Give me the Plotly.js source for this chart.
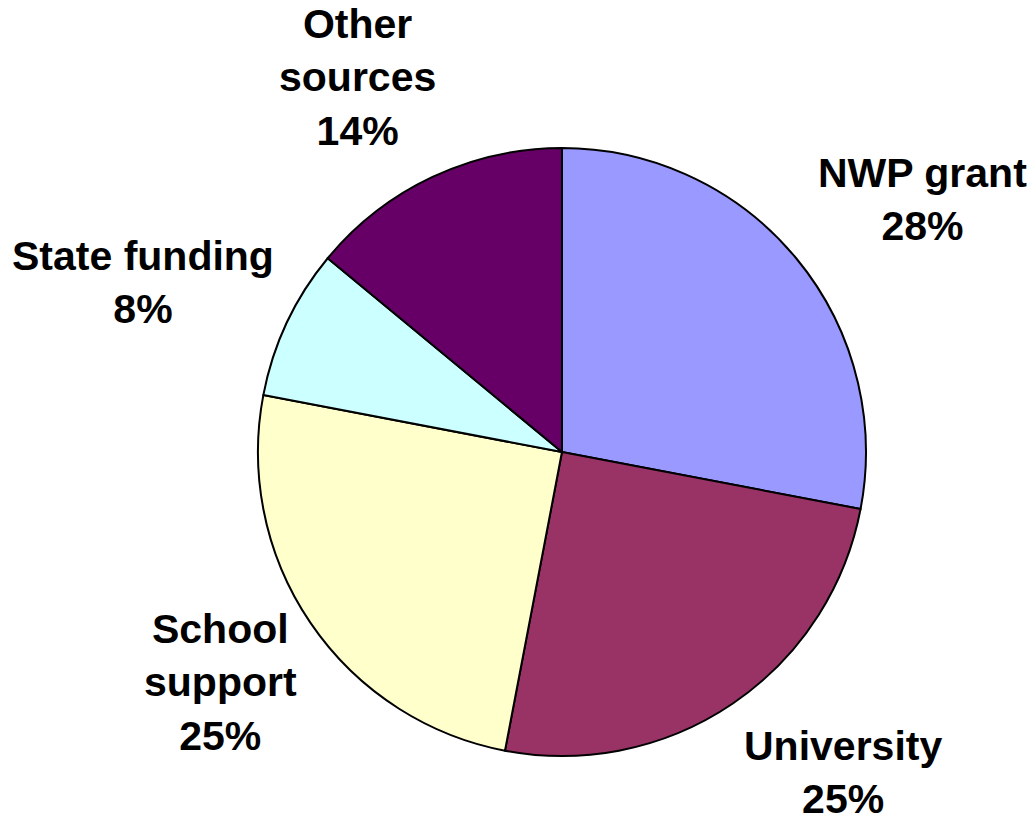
<!DOCTYPE html>
<html>
<head>
<meta charset="utf-8">
<script src="https://cdn.plot.ly/plotly-3.0.1.min.js"></script>
<style>html,body{margin:0;padding:0;background:#fff;}#chart{width:1033px;height:821px;}</style>
</head>
<body>
<div id="chart"></div>
<script>
const categories = ["NWP grant", "University", "School support", "State funding", "Other sources"];
const displayLabels = ["NWP grant", "University", "School<br>support", "State funding", "Other<br>sources"];
const values = [28, 25, 25, 8, 14];
const colors = ["#9999FF", "#993366", "#FFFFCC", "#CCFFFF", "#660066"];

// label placement (paper coordinates), kept separate from the data
const labelPositions = [
  {x: 0.8935, y: 0.7564},
  {x: 0.8161, y: 0.0585},
  {x: 0.2139, y: 0.1681},
  {x: 0.1384, y: 0.6565},
  {x: 0.3456, y: 0.9050}
];

const fontFamily = "Liberation Sans, Arial, sans-serif";

const trace = {
  type: "pie",
  labels: categories,
  values: values,
  sort: false,
  direction: "clockwise",
  rotation: 0,
  marker: {colors: colors, line: {color: "#000000", width: 2}},
  textinfo: "none",
  hoverinfo: "none",
  showlegend: false,
  domain: {x: [0.2497, 0.8383], y: [0.0791, 0.8197]}
};

const total = values.reduce((a, b) => a + b, 0);
const annotations = categories.map((c, i) => ({
  xref: "paper", yref: "paper",
  x: labelPositions[i].x, y: labelPositions[i].y,
  xanchor: "center", yanchor: "middle",
  showarrow: false,
  align: "center",
  text: "<b>" + displayLabels[i] + "<br>" + Math.round(values[i] / total * 100) + "%</b>",
  font: {family: fontFamily, size: 41, color: "#000000"}
}));

Plotly.newPlot("chart", [trace], {
  width: 1033, height: 821,
  margin: {l: 0, r: 0, t: 0, b: 0},
  paper_bgcolor: "#ffffff",
  showlegend: false,
  annotations: annotations
}, {displayModeBar: false, staticPlot: true});
</script>
</body>
</html>
